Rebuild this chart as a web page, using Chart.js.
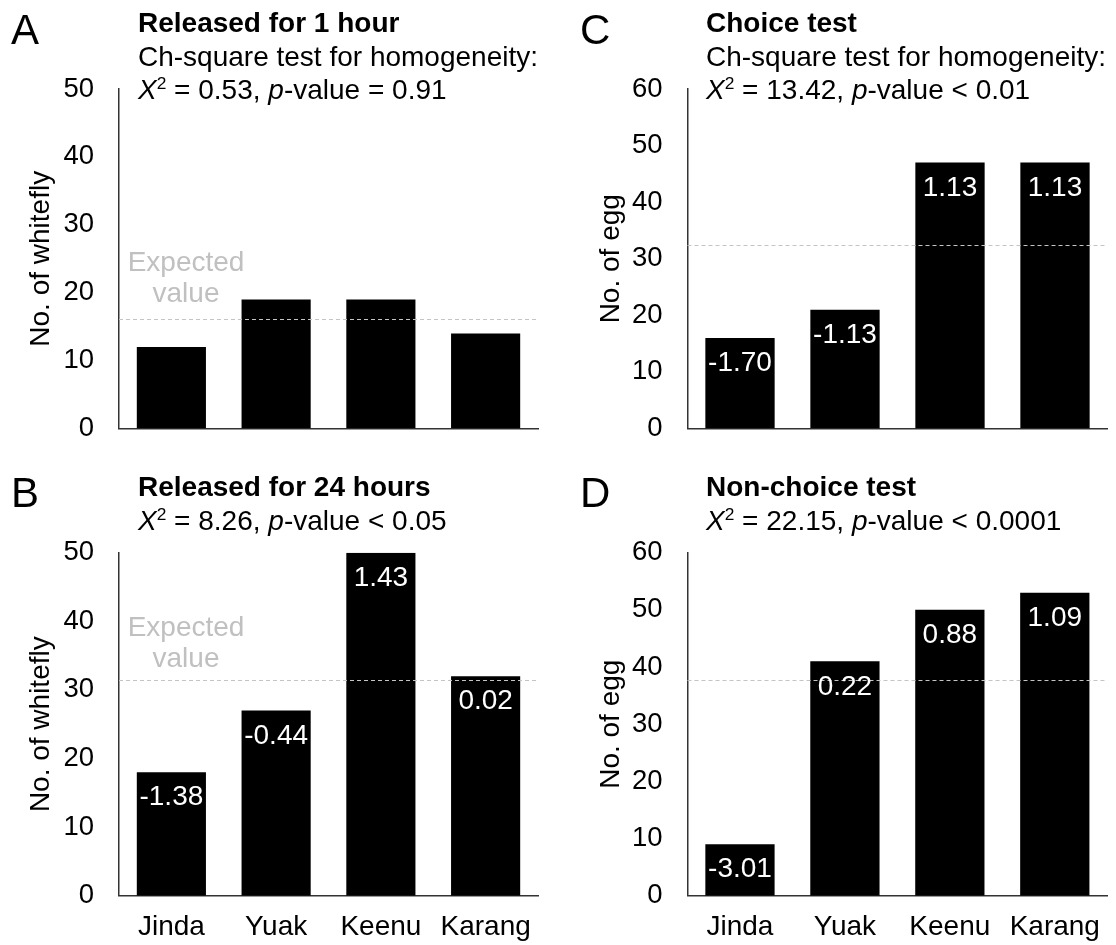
<!DOCTYPE html>
<html><head><meta charset="utf-8">
<script src="https://cdn.jsdelivr.net/npm/chart.js@4.4.0/dist/chart.umd.min.js"></script>
<style>
html,body{margin:0;padding:0;background:#fff;}
body{width:1116px;height:945px;position:relative;overflow:hidden;font-family:"Liberation Sans",Arial,sans-serif;color:#000;}
canvas{position:absolute;}
.t{position:absolute;white-space:nowrap;line-height:1;}
.letter{font-size:42px;}
.title{font-size:28px;font-weight:bold;}
.sub{font-size:28px;}
.sup{font-size:0.62em;position:relative;top:-0.55em;}
</style></head>
<body>
<canvas id="cA" width="558" height="470" style="left:0;top:0"></canvas>
<canvas id="cC" width="558" height="470" style="left:558px;top:0"></canvas>
<canvas id="cB" width="558" height="475" style="left:0;top:470px"></canvas>
<canvas id="cD" width="558" height="475" style="left:558px;top:470px"></canvas>

<div class="t letter" style="left:11px;top:9px">A</div>
<div class="t title" style="left:138px;top:9px">Released for 1 hour</div>
<div class="t sub" style="left:138px;top:43px">Ch-square test for homogeneity:</div>
<div class="t sub" style="left:138px;top:76px"><i>X</i><span class="sup">2</span> = 0.53, <i>p</i>-value = 0.91</div>

<div class="t letter" style="left:580px;top:9px">C</div>
<div class="t title" style="left:706px;top:9px">Choice test</div>
<div class="t sub" style="left:706px;top:43px">Ch-square test for homogeneity:</div>
<div class="t sub" style="left:706px;top:76px"><i>X</i><span class="sup">2</span> = 13.42, <i>p</i>-value &lt; 0.01</div>

<div class="t letter" style="left:11px;top:472px">B</div>
<div class="t title" style="left:138px;top:473px">Released for 24 hours</div>
<div class="t sub" style="left:138px;top:507px"><i>X</i><span class="sup">2</span> = 8.26, <i>p</i>-value &lt; 0.05</div>

<div class="t letter" style="left:580px;top:472px">D</div>
<div class="t title" style="left:706px;top:473px">Non-choice test</div>
<div class="t sub" style="left:706px;top:507px"><i>X</i><span class="sup">2</span> = 22.15, <i>p</i>-value &lt; 0.0001</div>

<script>
// ---- data ----
const categories = ['Jinda', 'Yuak', 'Keenu', 'Karang'];
const whitefly1h = [12, 19, 19, 14];
const whitefly24h = [18, 27, 50, 32];
const eggChoice = [16, 21, 47, 47];
const eggNonChoice = [9, 41, 50, 53];
const expected1h = 16.2;
const expected24h = 31.4;
const expectedChoice = 32.4;
const expectedNonChoice = 37.8;
const residuals24h = ['-1.38', '-0.44', '1.43', '0.02'];
const residualsChoice = ['-1.70', '-1.13', '1.13', '1.13'];
const residualsNonChoice = ['-3.01', '0.22', '0.88', '1.09'];
const whiteflyMax = 50;
const eggMax = 60;
const tickStep = 10;

const FAMILY = '"Liberation Sans", Arial, sans-serif';

const overlay = {
  id: 'overlay',
  afterDatasetsDraw(chart, args, opts) {
    const {ctx, chartArea, scales: {y}} = chart;
    const yy = Math.round(y.getPixelForValue(opts.expected)) + 0.5;
    ctx.save();
    ctx.strokeStyle = '#c4c4c4';
    ctx.lineWidth = 1;
    ctx.setLineDash([4, 3]);
    ctx.beginPath();
    ctx.moveTo(chartArea.left, yy);
    ctx.lineTo(chartArea.right, yy);
    ctx.stroke();
    ctx.setLineDash([]);
    if (opts.labels) {
      const meta = chart.getDatasetMeta(0);
      ctx.fillStyle = '#fff';
      ctx.font = '28px ' + FAMILY;
      ctx.textAlign = 'center';
      ctx.textBaseline = 'middle';
      meta.data.forEach((bar, i) => ctx.fillText(opts.labels[i], bar.x, bar.y + 25.5));
    }
    if (opts.expectedText) {
      ctx.fillStyle = '#c0c0c0';
      ctx.font = '28px ' + FAMILY;
      ctx.textAlign = 'center';
      ctx.textBaseline = 'alphabetic';
      const cx = chartArea.left + 67;
      ctx.fillText('Expected', cx, yy - opts.textGap - 31);
      ctx.fillText('value', cx, yy - opts.textGap);
    }
    ctx.restore();
  }
};

function makeChart(id, values, o) {
  return new Chart(document.getElementById(id), {
    type: 'bar',
    data: {
      labels: categories,
      datasets: [{
        data: values,
        backgroundColor: '#000',
        borderWidth: 0,
        categoryPercentage: 1,
        barPercentage: 0.66
      }]
    },
    options: {
      responsive: false,
      animation: false,
      devicePixelRatio: 1,
      layout: {padding: {top: o.padTop, right: o.padRight, left: 0, bottom: 0}},
      plugins: {
        legend: {display: false},
        tooltip: {enabled: false},
        overlay: {expected: o.expected, labels: o.labels, expectedText: o.expectedText, textGap: o.textGap}
      },
      scales: {
        x: {
          grid: {display: false, drawTicks: false},
          border: {display: true, color: '#333', width: 1.5},
          ticks: {display: o.showX, color: '#000', font: {size: 28, family: FAMILY}, padding: 15, maxRotation: 0, autoSkip: false},
          afterFit: s => { s.height = o.xHeight; }
        },
        y: {
          min: 0, max: o.max,
          grid: {display: false, drawTicks: false},
          border: {display: true, color: '#333', width: 1.5},
          ticks: {stepSize: tickStep, color: '#000', font: {size: 27.5, family: FAMILY}, padding: 25},
          title: {display: true, text: o.yTitle, color: '#000', font: {size: 28, family: FAMILY}, padding: {top: o.titlePad, bottom: 0}},
          afterFit: s => { s.width = o.yWidth; }
        }
      }
    },
    plugins: [overlay]
  });
}

makeChart('cA', whitefly1h, {padTop: 89, padRight: 20, xHeight: 37.3, yWidth: 119, titlePad: 24, max: whiteflyMax,
  yTitle: 'No. of whitefly', expected: expected1h, labels: null, expectedText: true, textGap: 17.5, showX: false});
makeChart('cC', eggChoice, {padTop: 89, padRight: 8.5, xHeight: 37.3, yWidth: 129.5, titlePad: 36, max: eggMax,
  yTitle: 'No. of egg', expected: expectedChoice, labels: residualsChoice, expectedText: false, showX: false});
makeChart('cB', whitefly24h, {padTop: 82.7, padRight: 20, xHeight: 49.3, yWidth: 119, titlePad: 24, max: whiteflyMax,
  yTitle: 'No. of whitefly', expected: expected24h, labels: residuals24h, expectedText: true, textGap: 14, showX: true});
makeChart('cD', eggNonChoice, {padTop: 82.7, padRight: 8.5, xHeight: 49.3, yWidth: 129.5, titlePad: 36, max: eggMax,
  yTitle: 'No. of egg', expected: expectedNonChoice, labels: residualsNonChoice, expectedText: false, showX: true});
</script>
</body></html>
